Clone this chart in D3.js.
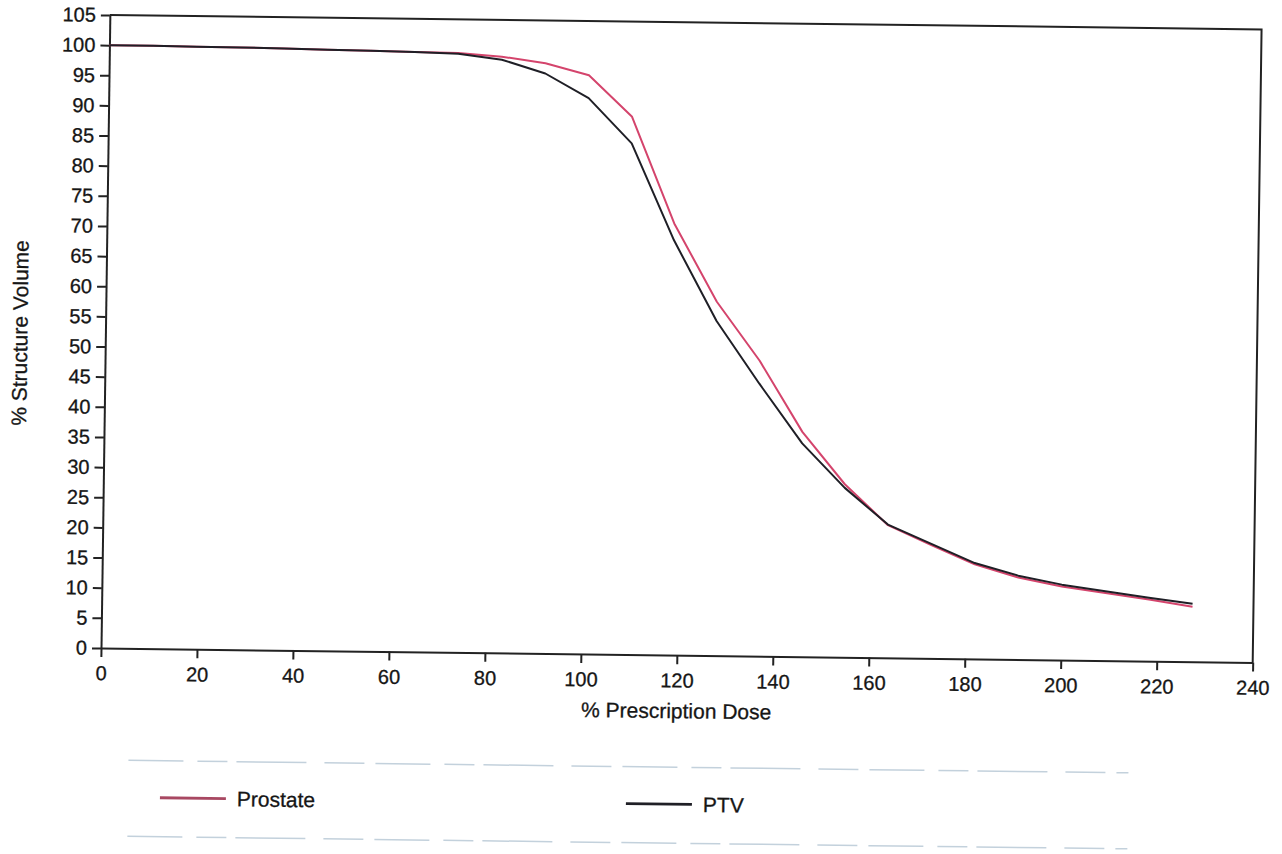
<!DOCTYPE html>
<html>
<head>
<meta charset="utf-8">
<script src="https://cdn.jsdelivr.net/npm/d3@7"></script>
<style>
  body { margin: 0; background: #fff; }
  svg { display: block; }
</style>
</head>
<body>
<div id="dvh"></div>
<script>
// % prescription dose at each DVH bin
const dose = [0, 9.1, 18.2, 27.3, 36.4, 45.5, 54.5, 63.6, 72.7, 81.8, 90.9, 100,
  109.1, 118.2, 127.3, 136.4, 145.5, 154.5, 163.6, 172.7, 181.8, 190.9, 200,
  209.1, 218.2, 227.3];
// % structure volume
const prostate = [100, 100, 99.9, 99.9, 99.8, 99.7, 99.6, 99.5, 99.4, 98.9, 97.9, 96.0,
  89.2, 71.6, 58.7, 49.0, 37.3, 28.7, 22.0, 18.8, 15.7, 13.6, 12.2, 11.2, 10.2, 9.1];
const ptv = [100, 100, 99.9, 99.9, 99.8, 99.7, 99.6, 99.5, 99.3, 98.4, 96.2, 92.2,
  84.8, 68.8, 55.5, 45.2, 35.4, 28.1, 22.1, 19.0, 15.9, 13.9, 12.5, 11.5, 10.5, 9.6];
const seriesNames = ["Prostate", "PTV"];
const xTicks = [0, 20, 40, 60, 80, 100, 120, 140, 160, 180, 200, 220, 240];
const yTicks = [0, 5, 10, 15, 20, 25, 30, 35, 40, 45, 50, 55, 60, 65, 70, 75, 80, 85, 90, 95, 100, 105];

const dvhLayout = {
  width: 1282,
  height: 854,
  left: 101,
  right: 1252.7,
  top: 15,
  bottom: 648,
  skewX: -0.014,   // the scanned page leans a little
  skewY: 0.0125,
  legendY: 797,
  legendX: [162, 628],
  legendLine: 66,
  boxTop: 760,
  boxBottom: 836
};

const font = "'Liberation Sans', Arial, Helvetica, sans-serif";
const inkColor = "#161616";
const lineColors = { "Prostate": "#d4446c", "PTV": "#1f1f26" };
const legendColors = { "Prostate": "#a84862", "PTV": "#1f1f26" };

let svg = d3.select("#dvh").append("svg")
  .attr("width", dvhLayout.width)
  .attr("height", dvhLayout.height)
  .attr("viewBox", [0, 0, dvhLayout.width, dvhLayout.height].join(" "));

svg.append("rect")
  .attr("width", dvhLayout.width)
  .attr("height", dvhLayout.height)
  .attr("fill", "#fff");

// shear around the axis origin so the chart sits like the scan
let e = -dvhLayout.skewX * dvhLayout.bottom;
let f = -dvhLayout.skewY * dvhLayout.left;
let chart = svg.append("g")
  .attr("transform", `matrix(1,${dvhLayout.skewY},${dvhLayout.skewX},1,${e},${f})`);

let xScale = d3.scaleLinear()
  .domain([0, 240])
  .range([dvhLayout.left, dvhLayout.right]);
let yScale = d3.scaleLinear()
  .domain([0, 105])
  .range([dvhLayout.bottom, dvhLayout.top]);

// frame top and right
chart.append("path")
  .attr("d", `M${xScale(0)},${yScale(105)}H${xScale(240)}V${yScale(0)}`)
  .attr("fill", "none")
  .attr("stroke", "#222")
  .attr("stroke-width", 2);

// axes
let yAxis = chart.append("g")
  .attr("transform", `translate(${dvhLayout.left},0)`)
  .call(d3.axisLeft(yScale).tickValues(yTicks).tickSize(9).tickPadding(5).tickSizeOuter(0));
let xAxis = chart.append("g")
  .attr("transform", `translate(0,${dvhLayout.bottom})`)
  .call(d3.axisBottom(xScale).tickValues(xTicks).tickSize(9).tickPadding(9).tickSizeOuter(0));

[xAxis, yAxis].forEach(ax => {
  ax.attr("font-family", font).attr("font-size", 20);
  ax.selectAll("text")
    .attr("fill", inkColor)
    .attr("stroke", inkColor)
    .attr("stroke-width", 0.3);
  ax.selectAll("line, .domain").attr("stroke", "#222").attr("stroke-width", 2);
});

// axis titles
chart.append("text")
  .attr("transform", `translate(23,334) rotate(-90)`)
  .attr("text-anchor", "middle")
  .attr("font-family", font)
  .attr("font-size", 21)
  .attr("fill", inkColor)
  .attr("stroke", inkColor)
  .attr("stroke-width", 0.3)
  .text("% Structure Volume");

chart.append("text")
  .attr("x", 677)
  .attr("y", 711)
  .attr("text-anchor", "middle")
  .attr("font-family", font)
  .attr("font-size", 21)
  .attr("fill", inkColor)
  .attr("stroke", inkColor)
  .attr("stroke-width", 0.3)
  .text("% Prescription Dose");

// dvh curves
let series = [
  { name: "Prostate", values: prostate },
  { name: "PTV", values: ptv }
];
let line = d3.line()
  .x(d => xScale(d.dose))
  .y(d => yScale(d.volume));

series.forEach(s => {
  let points = dose.map((x, i) => ({ dose: x, volume: s.values[i] }));
  chart.append("path")
    .datum(points)
    .attr("fill", "none")
    .attr("stroke", lineColors[s.name])
    .attr("stroke-width", 2)
    .attr("stroke-linejoin", "round")
    .attr("d", line);
});

// faint legend box edges from the scan
[dvhLayout.boxTop, dvhLayout.boxBottom].forEach(y => {
  chart.append("line")
    .attr("x1", 130)
    .attr("x2", 1130)
    .attr("y1", y)
    .attr("y2", y)
    .attr("stroke", "#c3d1dc")
    .attr("stroke-width", 1.5)
    .attr("stroke-dasharray", "55 14 30 9 70 18 40 11");
});

// legend
let legend = chart.selectAll(".legend")
  .data(seriesNames)
  .join("g")
  .attr("class", "legend")
  .attr("transform", (d, i) => `translate(${dvhLayout.legendX[i]},${dvhLayout.legendY})`);

legend.append("line")
  .attr("x1", 0)
  .attr("x2", dvhLayout.legendLine)
  .attr("stroke", d => legendColors[d])
  .attr("stroke-width", 2.8);

legend.append("text")
  .attr("x", dvhLayout.legendLine + 11)
  .attr("dy", "0.36em")
  .attr("font-family", font)
  .attr("font-size", 21)
  .attr("fill", inkColor)
  .attr("stroke", inkColor)
  .attr("stroke-width", 0.3)
  .text(d => d);
</script>
</body>
</html>
